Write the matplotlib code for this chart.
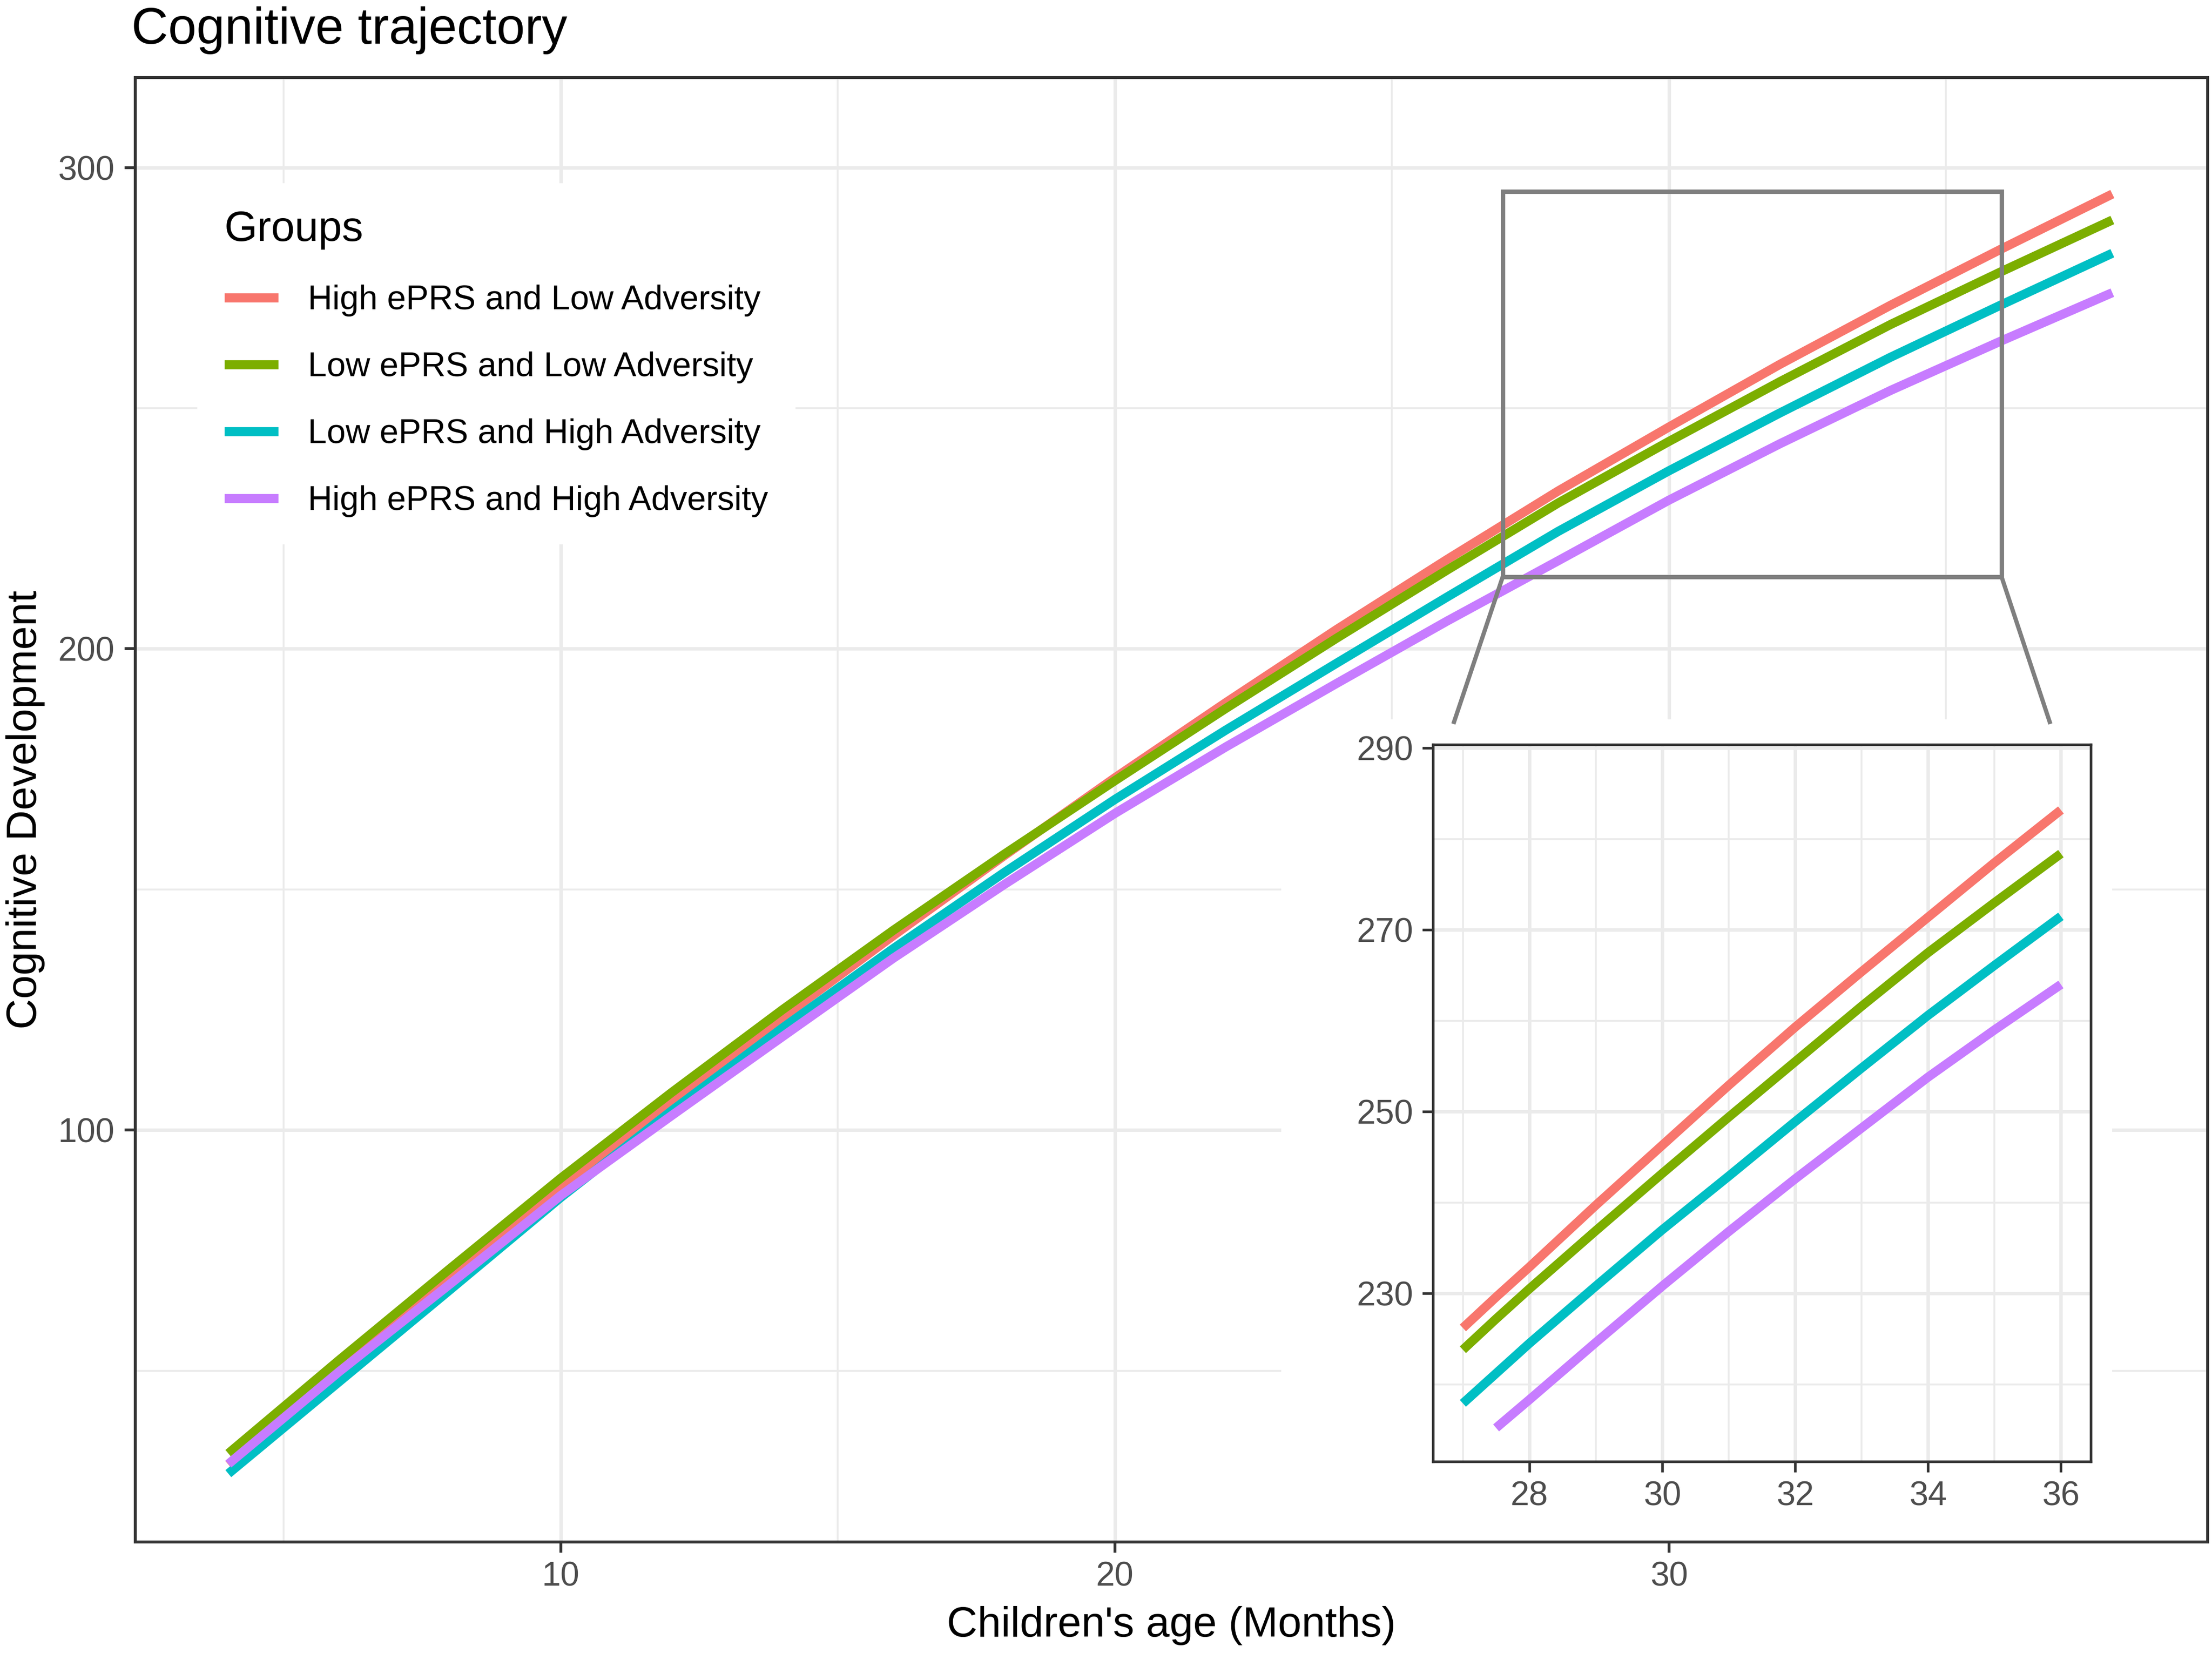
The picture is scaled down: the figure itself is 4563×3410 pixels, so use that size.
import numpy as np
import matplotlib.pyplot as plt
from matplotlib.patches import Rectangle

plt.rcParams['font.family'] = ['Liberation Sans', 'DejaVu Sans']

# values
age = [4, 6, 8, 10, 12, 14, 16, 18, 20, 22, 24, 26, 28, 30, 32, 34, 36, 38]
high_eprs_low_adv = [30.5, 50.0, 69.2, 88.3, 106.1, 123.4, 140.4, 157.0, 173.2, 188.8,
                     204.0, 218.6, 232.8, 246.1, 259.1, 271.4, 283.1, 294.5]
low_eprs_low_adv = [32.8, 52.2, 71.2, 90.0, 107.8, 125.0, 141.5, 157.3, 172.6, 187.6,
                    202.2, 216.4, 230.3, 243.1, 255.5, 267.4, 278.4, 289.1]
low_eprs_high_adv = [28.6, 47.7, 66.8, 86.0, 104.0, 121.2, 137.7, 153.5, 168.7, 183.1,
                     197.0, 210.8, 224.4, 237.0, 249.0, 260.6, 271.5, 282.2]
high_eprs_high_adv = [30.6, 49.8, 68.0, 86.4, 103.0, 119.4, 135.7, 151.0, 165.8, 179.6,
                      192.8, 205.8, 218.3, 230.9, 242.6, 253.7, 264.0, 274.0]

# zoomed panel (27-36 months)
inset_age = [27, 27.5, 28, 29, 30, 31, 32, 33, 34, 35, 36]
inset_high_low = [226.2, 229.6, 232.9, 239.7, 246.3, 252.9, 259.3, 265.4, 271.4, 277.4, 283.2]
inset_low_low = [223.8, 227.2, 230.5, 236.9, 243.2, 249.4, 255.5, 261.6, 267.5, 273.0, 278.4]
inset_low_high = [217.9, 221.2, 224.5, 230.8, 237.0, 242.9, 248.9, 254.8, 260.6, 266.1, 271.5]
inset_high_high = [212.1, 215.2, 218.3, 224.6, 230.8, 236.8, 242.6, 248.2, 253.8, 259.0, 264.0]

groups = ["High ePRS and Low Adversity", "Low ePRS and Low Adversity",
          "Low ePRS and High Adversity", "High ePRS and High Adversity"]
colors = ["#F8766D", "#7CAE00", "#00BFC4", "#C77CFF"]

zoom_x = (27, 36)
zoom_y = (215, 295)
connector_x = (26.12, 36.87)
connector_y = 184.8
inset_area = (23, 38, 185.3)

LW = 4.5

W, H = 4563, 3410
fig = plt.figure(figsize=(W / 300, H / 300), dpi=300)
ax = fig.add_axes([279 / W, 1 - 3181 / H, (4554 - 279) / W, (3181 - 160) / H])

series = [high_eprs_low_adv, low_eprs_low_adv, low_eprs_high_adv, high_eprs_high_adv]
for vals, name, col in zip(series, groups, colors):
    ax.plot(age, vals, color=col, lw=LW, solid_capstyle='butt', label=name, zorder=3)

ax.set_xlim(2.32, 39.72)
ax.set_ylim(14.4, 318.7)
ax.set_xticks([10, 20, 30])
ax.set_xticks([5, 15, 25, 35], minor=True)
ax.set_yticks([100, 200, 300])
ax.set_yticks([50, 150, 250], minor=True)
ax.set_axisbelow(True)
ax.grid(which='major', color='#EBEBEB', lw=1.7)
ax.grid(which='minor', color='#EBEBEB', lw=0.9)
ax.tick_params(which='major', length=5.25, width=1.4, color='#333333',
               labelsize=16.8, labelcolor='#4D4D4D')
ax.tick_params(axis='x', pad=4.2)
ax.tick_params(axis='y', pad=5.0)
ax.tick_params(which='minor', length=0)
for sp in ax.spines.values():
    sp.set_color('#333333')
    sp.set_linewidth(1.45)

# white area behind the inset plot
ax.add_patch(Rectangle((inset_area[0], 0), inset_area[1] - inset_area[0], inset_area[2],
                       facecolor='white', edgecolor='none', zorder=1))

# zoom box and connectors
ax.add_patch(Rectangle((zoom_x[0], zoom_y[0]), zoom_x[1] - zoom_x[0], zoom_y[1] - zoom_y[0],
                       fill=False, edgecolor='#7F7F7F', lw=2.2, zorder=4))
ax.plot([zoom_x[0], connector_x[0]], [zoom_y[0], connector_y], color='#7F7F7F', lw=2.1, zorder=4)
ax.plot([zoom_x[1], connector_x[1]], [zoom_y[0], connector_y], color='#7F7F7F', lw=2.1, zorder=4)

ax.set_xlabel("Children's age (Months)", fontsize=21, va='baseline')
ax.xaxis.set_label_coords(0.5, (3181 - 3376) / (3181 - 160))
ax.set_ylabel("Cognitive Development", fontsize=21, rotation=90,
              rotation_mode='anchor', ha='center', va='baseline')
ax.yaxis.set_label_coords((75 - 279) / (4554 - 279), 0.5)

leg = ax.legend(loc='upper left', bbox_to_anchor=((407 - 279) / 4275, (3181 - 378) / 3021),
                borderaxespad=0, title='Groups', title_fontsize=21, fontsize=16.8,
                frameon=True, fancybox=False, facecolor='white', edgecolor='none',
                framealpha=1, handlelength=1.59, handletextpad=0.87, labelspacing=1.03,
                borderpad=0.8, alignment='left')
for h in leg.legend_handles:
    h.set_solid_capstyle('butt')

fig.text(271 / W, 1 - 90 / H, "Cognitive trajectory", fontsize=25.2, ha='left', va='baseline')

# inset panel
axin = fig.add_axes([2956 / W, 1 - 3015 / H, (4313 - 2956) / W, (3015 - 1536) / H])
inset_series = [inset_high_low, inset_low_low, inset_low_high, inset_high_high]
for vals, col in zip(inset_series, colors):
    v = np.array(vals, dtype=float)
    v[v < zoom_y[0]] = np.nan
    axin.plot(inset_age, v, color=col, lw=LW, solid_capstyle='butt', zorder=3)

axin.set_xlim(26.55, 36.45)
axin.set_ylim(211.5, 290.4)
axin.set_xticks([28, 30, 32, 34, 36])
axin.set_xticks([27, 29, 31, 33, 35], minor=True)
axin.set_yticks([230, 250, 270, 290])
axin.set_yticks([220, 240, 260, 280], minor=True)
axin.set_axisbelow(True)
axin.grid(which='major', color='#EBEBEB', lw=1.7)
axin.grid(which='minor', color='#EBEBEB', lw=0.9)
axin.tick_params(which='major', length=5.25, width=1.3, color='#333333',
                 labelsize=16.8, labelcolor='#4D4D4D')
axin.tick_params(axis='x', pad=4.2)
axin.tick_params(axis='y', pad=4.5)
axin.tick_params(which='minor', length=0)
for sp in axin.spines.values():
    sp.set_color('#333333')
    sp.set_linewidth(1.3)

fig.savefig("out.png", dpi=300)
